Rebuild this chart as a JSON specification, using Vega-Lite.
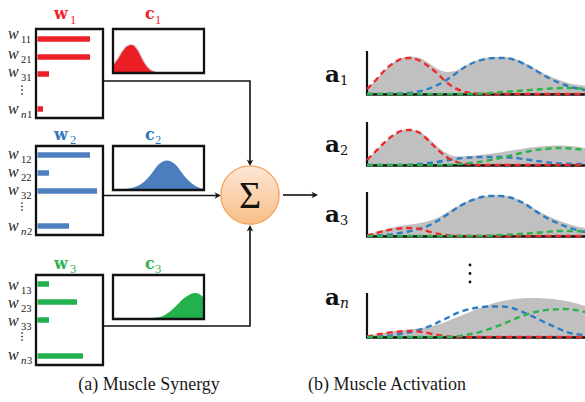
{
  "$schema": "https://vega.github.io/schema/vega-lite/v6.json",
  "width": 585,
  "height": 402,
  "autosize": {"type": "none"},
  "padding": 0,
  "background": "white",
  "config": {"view": {"stroke": null}},
  "datasets": {
    "cur": [
      {"s":"r","x":113,"y":66,"y0":72},{"s":"r","x":118,"y":59,"y0":72},{"s":"r","x":123,"y":51,"y0":72},{"s":"r","x":127,"y":46.5,"y0":72},{"s":"r","x":131,"y":45,"y0":72},{"s":"r","x":135,"y":47,"y0":72},{"s":"r","x":139,"y":53,"y0":72},{"s":"r","x":143,"y":61,"y0":72},{"s":"r","x":147,"y":67,"y0":72},{"s":"r","x":151,"y":70.5,"y0":72},{"s":"r","x":155,"y":72,"y0":72},
      {"s":"b","x":125,"y":189,"y0":189},{"s":"b","x":135,"y":187,"y0":189},{"s":"b","x":145,"y":181,"y0":189},{"s":"b","x":152,"y":173,"y0":189},{"s":"b","x":158,"y":165,"y0":189},{"s":"b","x":163,"y":161.5,"y0":189},{"s":"b","x":167,"y":160.5,"y0":189},{"s":"b","x":171,"y":161.5,"y0":189},{"s":"b","x":176,"y":165,"y0":189},{"s":"b","x":182,"y":173,"y0":189},{"s":"b","x":188,"y":180,"y0":189},{"s":"b","x":194,"y":185,"y0":189},{"s":"b","x":200,"y":188,"y0":189},{"s":"b","x":204,"y":189,"y0":189},
      {"s":"g","x":150,"y":318,"y0":318},{"s":"g","x":160,"y":317,"y0":318},{"s":"g","x":168,"y":313,"y0":318},{"s":"g","x":176,"y":306,"y0":318},{"s":"g","x":183,"y":299,"y0":318},{"s":"g","x":189,"y":295,"y0":318},{"s":"g","x":194,"y":293,"y0":318},{"s":"g","x":198,"y":293.5,"y0":318},{"s":"g","x":202,"y":296,"y0":318},{"s":"g","x":204,"y":298,"y0":318}
    ],
    "boxes": [
      {"x":36,"x2":103,"y":29,"y2":118},{"x":113,"x2":204,"y":29,"y2":73},
      {"x":36,"x2":103,"y":146,"y2":235},{"x":113,"x2":204,"y":146,"y2":190},
      {"x":36,"x2":103,"y":275,"y2":365},{"x":113,"x2":204,"y":275,"y2":319}
    ],
    "bars": [
      {"s":"r","x":37.5,"x2":90,"y":39},{"s":"r","x":37.5,"x2":90,"y":57},{"s":"r","x":37.5,"x2":49,"y":74},{"s":"r","x":37.5,"x2":43,"y":109},
      {"s":"b","x":37.5,"x2":90,"y":155},{"s":"b","x":37.5,"x2":49,"y":173},{"s":"b","x":37.5,"x2":97,"y":191},{"s":"b","x":37.5,"x2":69,"y":226},
      {"s":"g","x":37.5,"x2":49,"y":284},{"s":"g","x":37.5,"x2":77,"y":302},{"s":"g","x":37.5,"x2":49,"y":320},{"s":"g","x":37.5,"x2":83,"y":356}
    ],
    "wlab": [
      {"t":"w","x":8,"y":39},{"t":"w","x":8,"y":59},{"t":"w","x":8,"y":77},{"t":"w","x":8,"y":114},
      {"t":"w","x":8,"y":159},{"t":"w","x":8,"y":177},{"t":"w","x":8,"y":195},{"t":"w","x":8,"y":231},
      {"t":"w","x":8,"y":290},{"t":"w","x":8,"y":308},{"t":"w","x":8,"y":326},{"t":"w","x":8,"y":360}
    ],
    "wsub": [
      {"t":"11","x":21,"y":43},{"t":"21","x":21,"y":63},{"t":"31","x":21,"y":81},{"t":"1","x":27,"y":118},
      {"t":"12","x":21,"y":163},{"t":"22","x":21,"y":181},{"t":"32","x":21,"y":199},{"t":"2","x":27,"y":235},
      {"t":"13","x":21,"y":294},{"t":"23","x":21,"y":312},{"t":"33","x":21,"y":330},{"t":"3","x":27,"y":364}
    ],
    "nsub": [
      {"t":"n","x":21,"y":118},{"t":"n","x":21,"y":235},{"t":"n","x":21,"y":364}
    ],
    "ldots": [
      {"x":22,"y":86},{"x":22,"y":90},{"x":22,"y":94},
      {"x":22,"y":203},{"x":22,"y":206.5},{"x":22,"y":210},
      {"x":22,"y":333},{"x":22,"y":336.5},{"x":22,"y":340}
    ],
    "titles": [
      {"t":"w","s":"r","x":54,"y":19},{"t":"c","s":"r","x":145,"y":19},
      {"t":"w","s":"b","x":54,"y":140},{"t":"c","s":"b","x":145,"y":140},
      {"t":"w","s":"g","x":54,"y":269},{"t":"c","s":"g","x":145,"y":269}
    ],
    "tsubs": [
      {"t":"1","s":"r","x":70,"y":24},{"t":"1","s":"r","x":155,"y":24},
      {"t":"2","s":"b","x":70,"y":144},{"t":"2","s":"b","x":155,"y":144},
      {"t":"3","s":"g","x":70,"y":273},{"t":"3","s":"g","x":155,"y":273}
    ],
    "conn": [
      {"id":"t","o":1,"x":103,"y":81},{"id":"t","o":2,"x":250,"y":81},{"id":"t","o":3,"x":250,"y":162},
      {"id":"l","o":1,"x":103,"y":195.5},{"id":"l","o":2,"x":217,"y":195.5},
      {"id":"b","o":1,"x":103,"y":326},{"id":"b","o":2,"x":250,"y":326},{"id":"b","o":3,"x":250,"y":229},
      {"id":"o","o":1,"x":283,"y":195},{"id":"o","o":2,"x":314,"y":195}
    ],
    "heads": [
      {"x":250,"y":166,"a":90},{"x":221,"y":195.5,"a":0},{"x":250,"y":225,"a":270},{"x":318,"y":195,"a":0}
    ],
    "grey": [
      {"p":"a1","x":367,"y":89,"y0":94},{"p":"a1","x":375,"y":81,"y0":94},{"p":"a1","x":385,"y":70,"y0":94},{"p":"a1","x":395,"y":61.5,"y0":94},{"p":"a1","x":403,"y":57.5,"y0":94},{"p":"a1","x":411,"y":56.5,"y0":94},{"p":"a1","x":420,"y":58,"y0":94},{"p":"a1","x":430,"y":64,"y0":94},{"p":"a1","x":440,"y":70,"y0":94},{"p":"a1","x":447,"y":72,"y0":94},{"p":"a1","x":455,"y":71,"y0":94},{"p":"a1","x":465,"y":66,"y0":94},{"p":"a1","x":475,"y":61,"y0":94},{"p":"a1","x":485,"y":58,"y0":94},{"p":"a1","x":495,"y":57,"y0":94},{"p":"a1","x":505,"y":57,"y0":94},{"p":"a1","x":515,"y":59,"y0":94},{"p":"a1","x":525,"y":63,"y0":94},{"p":"a1","x":535,"y":68.5,"y0":94},{"p":"a1","x":545,"y":74,"y0":94},{"p":"a1","x":555,"y":78.5,"y0":94},{"p":"a1","x":565,"y":82,"y0":94},{"p":"a1","x":575,"y":84.5,"y0":94},{"p":"a1","x":585,"y":85.5,"y0":94},
      {"p":"a2","x":367,"y":160,"y0":165},{"p":"a2","x":375,"y":152,"y0":165},{"p":"a2","x":385,"y":142,"y0":165},{"p":"a2","x":395,"y":134,"y0":165},{"p":"a2","x":403,"y":130,"y0":165},{"p":"a2","x":410,"y":129.5,"y0":165},{"p":"a2","x":418,"y":131,"y0":165},{"p":"a2","x":428,"y":138,"y0":165},{"p":"a2","x":438,"y":147,"y0":165},{"p":"a2","x":448,"y":154,"y0":165},{"p":"a2","x":457,"y":156.5,"y0":165},{"p":"a2","x":470,"y":156,"y0":165},{"p":"a2","x":485,"y":154.5,"y0":165},{"p":"a2","x":500,"y":152.5,"y0":165},{"p":"a2","x":515,"y":150,"y0":165},{"p":"a2","x":530,"y":147.5,"y0":165},{"p":"a2","x":545,"y":146,"y0":165},{"p":"a2","x":557,"y":145.5,"y0":165},{"p":"a2","x":570,"y":146,"y0":165},{"p":"a2","x":585,"y":148,"y0":165},
      {"p":"a3","x":367,"y":235,"y0":236},{"p":"a3","x":380,"y":231,"y0":236},{"p":"a3","x":395,"y":227,"y0":236},{"p":"a3","x":410,"y":224.5,"y0":236},{"p":"a3","x":425,"y":222,"y0":236},{"p":"a3","x":440,"y":216.5,"y0":236},{"p":"a3","x":455,"y":207.5,"y0":236},{"p":"a3","x":470,"y":200,"y0":236},{"p":"a3","x":485,"y":196,"y0":236},{"p":"a3","x":497,"y":195,"y0":236},{"p":"a3","x":510,"y":196.5,"y0":236},{"p":"a3","x":525,"y":203,"y0":236},{"p":"a3","x":540,"y":212,"y0":236},{"p":"a3","x":555,"y":219,"y0":236},{"p":"a3","x":570,"y":224.5,"y0":236},{"p":"a3","x":585,"y":228,"y0":236},
      {"p":"an","x":367,"y":336,"y0":337},{"p":"an","x":380,"y":333.5,"y0":337},{"p":"an","x":395,"y":331,"y0":337},{"p":"an","x":410,"y":329.5,"y0":337},{"p":"an","x":425,"y":327.5,"y0":337},{"p":"an","x":440,"y":324,"y0":337},{"p":"an","x":455,"y":318,"y0":337},{"p":"an","x":470,"y":312,"y0":337},{"p":"an","x":485,"y":306,"y0":337},{"p":"an","x":500,"y":301.5,"y0":337},{"p":"an","x":515,"y":299,"y0":337},{"p":"an","x":530,"y":298,"y0":337},{"p":"an","x":545,"y":298.5,"y0":337},{"p":"an","x":560,"y":300,"y0":337},{"p":"an","x":575,"y":303,"y0":337},{"p":"an","x":585,"y":306,"y0":337}
    ],
    "lines": [
      {"p":"a1","s":"b","x":367,"y":94},{"p":"a1","s":"b","x":400,"y":93.5},{"p":"a1","s":"b","x":415,"y":92},{"p":"a1","s":"b","x":425,"y":90},{"p":"a1","s":"b","x":435,"y":86},{"p":"a1","s":"b","x":445,"y":81},{"p":"a1","s":"b","x":455,"y":74},{"p":"a1","s":"b","x":465,"y":67},{"p":"a1","s":"b","x":475,"y":62},{"p":"a1","s":"b","x":485,"y":59},{"p":"a1","s":"b","x":495,"y":58},{"p":"a1","s":"b","x":505,"y":58},{"p":"a1","s":"b","x":515,"y":60},{"p":"a1","s":"b","x":525,"y":64.5},{"p":"a1","s":"b","x":535,"y":70},{"p":"a1","s":"b","x":545,"y":76},{"p":"a1","s":"b","x":555,"y":81},{"p":"a1","s":"b","x":565,"y":85},{"p":"a1","s":"b","x":575,"y":88},{"p":"a1","s":"b","x":585,"y":90},
      {"p":"a1","s":"r","x":367,"y":89},{"p":"a1","s":"r","x":375,"y":81},{"p":"a1","s":"r","x":385,"y":70},{"p":"a1","s":"r","x":395,"y":62},{"p":"a1","s":"r","x":403,"y":58.5},{"p":"a1","s":"r","x":410,"y":58},{"p":"a1","s":"r","x":418,"y":60},{"p":"a1","s":"r","x":428,"y":66},{"p":"a1","s":"r","x":438,"y":74},{"p":"a1","s":"r","x":445,"y":81},{"p":"a1","s":"r","x":455,"y":88},{"p":"a1","s":"r","x":465,"y":92},{"p":"a1","s":"r","x":475,"y":93.5},{"p":"a1","s":"r","x":485,"y":94},{"p":"a1","s":"r","x":585,"y":94},
      {"p":"a1","s":"g","x":367,"y":94},{"p":"a1","s":"g","x":470,"y":94},{"p":"a1","s":"g","x":490,"y":93},{"p":"a1","s":"g","x":510,"y":91.5},{"p":"a1","s":"g","x":530,"y":90},{"p":"a1","s":"g","x":550,"y":88.5},{"p":"a1","s":"g","x":570,"y":88},{"p":"a1","s":"g","x":585,"y":89},
      {"p":"a2","s":"b","x":367,"y":165},{"p":"a2","s":"b","x":400,"y":165},{"p":"a2","s":"b","x":420,"y":164},{"p":"a2","s":"b","x":440,"y":161.5},{"p":"a2","s":"b","x":455,"y":159},{"p":"a2","s":"b","x":470,"y":157.5},{"p":"a2","s":"b","x":485,"y":157},{"p":"a2","s":"b","x":500,"y":157},{"p":"a2","s":"b","x":515,"y":158},{"p":"a2","s":"b","x":530,"y":160},{"p":"a2","s":"b","x":545,"y":162},{"p":"a2","s":"b","x":560,"y":163.5},{"p":"a2","s":"b","x":585,"y":164},
      {"p":"a2","s":"r","x":367,"y":160},{"p":"a2","s":"r","x":375,"y":152},{"p":"a2","s":"r","x":385,"y":142},{"p":"a2","s":"r","x":395,"y":134},{"p":"a2","s":"r","x":403,"y":130.5},{"p":"a2","s":"r","x":410,"y":130},{"p":"a2","s":"r","x":418,"y":132},{"p":"a2","s":"r","x":428,"y":140},{"p":"a2","s":"r","x":438,"y":150},{"p":"a2","s":"r","x":448,"y":158},{"p":"a2","s":"r","x":458,"y":162.5},{"p":"a2","s":"r","x":470,"y":164.5},{"p":"a2","s":"r","x":480,"y":165},{"p":"a2","s":"r","x":585,"y":165},
      {"p":"a2","s":"g","x":367,"y":165},{"p":"a2","s":"g","x":440,"y":165},{"p":"a2","s":"g","x":455,"y":164.5},{"p":"a2","s":"g","x":470,"y":163},{"p":"a2","s":"g","x":485,"y":161},{"p":"a2","s":"g","x":500,"y":158},{"p":"a2","s":"g","x":515,"y":154.5},{"p":"a2","s":"g","x":530,"y":151},{"p":"a2","s":"g","x":545,"y":149},{"p":"a2","s":"g","x":557,"y":148},{"p":"a2","s":"g","x":570,"y":148.5},{"p":"a2","s":"g","x":585,"y":150},
      {"p":"a3","s":"b","x":367,"y":236},{"p":"a3","s":"b","x":385,"y":235},{"p":"a3","s":"b","x":400,"y":233},{"p":"a3","s":"b","x":415,"y":230},{"p":"a3","s":"b","x":430,"y":225},{"p":"a3","s":"b","x":445,"y":216},{"p":"a3","s":"b","x":460,"y":206},{"p":"a3","s":"b","x":475,"y":199},{"p":"a3","s":"b","x":490,"y":196},{"p":"a3","s":"b","x":500,"y":196},{"p":"a3","s":"b","x":510,"y":197.5},{"p":"a3","s":"b","x":525,"y":204},{"p":"a3","s":"b","x":540,"y":214},{"p":"a3","s":"b","x":555,"y":222},{"p":"a3","s":"b","x":570,"y":228},{"p":"a3","s":"b","x":585,"y":232},
      {"p":"a3","s":"r","x":367,"y":235.5},{"p":"a3","s":"r","x":380,"y":232},{"p":"a3","s":"r","x":395,"y":229},{"p":"a3","s":"r","x":408,"y":228},{"p":"a3","s":"r","x":420,"y":229},{"p":"a3","s":"r","x":432,"y":232.5},{"p":"a3","s":"r","x":445,"y":235},{"p":"a3","s":"r","x":460,"y":236},{"p":"a3","s":"r","x":585,"y":236},
      {"p":"a3","s":"g","x":367,"y":236},{"p":"a3","s":"g","x":480,"y":236},{"p":"a3","s":"g","x":500,"y":235},{"p":"a3","s":"g","x":520,"y":234},{"p":"a3","s":"g","x":540,"y":232.5},{"p":"a3","s":"g","x":560,"y":231},{"p":"a3","s":"g","x":575,"y":231},{"p":"a3","s":"g","x":585,"y":232},
      {"p":"an","s":"b","x":367,"y":337},{"p":"an","s":"b","x":385,"y":336},{"p":"an","s":"b","x":400,"y":334},{"p":"an","s":"b","x":415,"y":331},{"p":"an","s":"b","x":430,"y":326},{"p":"an","s":"b","x":445,"y":319},{"p":"an","s":"b","x":460,"y":312},{"p":"an","s":"b","x":475,"y":308},{"p":"an","s":"b","x":490,"y":306.5},{"p":"an","s":"b","x":500,"y":306.5},{"p":"an","s":"b","x":512,"y":308},{"p":"an","s":"b","x":525,"y":313},{"p":"an","s":"b","x":540,"y":320},{"p":"an","s":"b","x":555,"y":327},{"p":"an","s":"b","x":570,"y":333},{"p":"an","s":"b","x":585,"y":335},
      {"p":"an","s":"r","x":367,"y":336.5},{"p":"an","s":"r","x":380,"y":334},{"p":"an","s":"r","x":395,"y":332},{"p":"an","s":"r","x":410,"y":331},{"p":"an","s":"r","x":422,"y":332},{"p":"an","s":"r","x":435,"y":334.5},{"p":"an","s":"r","x":448,"y":336.5},{"p":"an","s":"r","x":460,"y":337},{"p":"an","s":"r","x":585,"y":337},
      {"p":"an","s":"g","x":367,"y":337},{"p":"an","s":"g","x":450,"y":337},{"p":"an","s":"g","x":465,"y":335},{"p":"an","s":"g","x":480,"y":332},{"p":"an","s":"g","x":495,"y":327},{"p":"an","s":"g","x":510,"y":321},{"p":"an","s":"g","x":525,"y":315},{"p":"an","s":"g","x":540,"y":311},{"p":"an","s":"g","x":555,"y":309.5},{"p":"an","s":"g","x":565,"y":309},{"p":"an","s":"g","x":575,"y":310},{"p":"an","s":"g","x":585,"y":312}
    ],
    "vaxes": [
      {"x":367,"y":51,"y2":95},{"x":367,"y":122,"y2":166},{"x":367,"y":192,"y2":237},{"x":367,"y":293,"y2":338}
    ],
    "haxes": [
      {"x":366,"x2":585,"y":94.5},{"x":366,"x2":585,"y":165.5},{"x":366,"x2":585,"y":236.5},{"x":366,"x2":585,"y":337.5}
    ],
    "alab": [
      {"t":"a","x":325,"y":82},{"t":"a","x":325,"y":152},{"t":"a","x":325,"y":222},{"t":"a","x":325,"y":305}
    ],
    "asub": [
      {"t":"1","x":340,"y":84.5},{"t":"2","x":340,"y":155},{"t":"3","x":340,"y":225}
    ],
    "ansub": [
      {"t":"n","x":340,"y":308}
    ],
    "rdots": [
      {"x":470,"y":265},{"x":470,"y":273.5},{"x":470,"y":282}
    ],
    "sum": [{"x":250,"y":195,"t":"Σ"}],
    "caps": [
      {"t":"(a) Muscle Synergy","x":149,"y":390},
      {"t":"(b) Muscle Activation","x":387,"y":390}
    ]
  },
  "encoding": {
    "x": {"field":"x","type":"quantitative","scale":{"domain":[0,585],"nice":false,"zero":false},"axis":null},
    "y": {"field":"y","type":"quantitative","scale":{"domain":[0,402],"nice":false,"zero":false,"reverse":true},"axis":null}
  },
  "resolve": {"scale": {"color": "independent"}},
  "layer": [
    {
      "data": {"name":"cur"},
      "transform": [{"filter":"datum.s == 'r'"}],
      "mark": {"type":"line","color":"#d6d6d6","strokeWidth":2.5,"interpolate":"monotone"},
      "encoding": {}
    },
    {
      "data": {"name":"cur"},
      "mark": {"type":"area","interpolate":"monotone","opacity":1},
      "encoding": {
        "y2": {"field":"y0"},
        "detail": {"field":"s"},
        "color": {"field":"s","type":"nominal","scale":{"domain":["r","b","g"],"range":["#ed1f26","#4a7ebe","#22b14c"]},"legend":null}
      }
    },
    {
      "data": {"name":"boxes"},
      "mark": {"type":"rect","fillOpacity":0,"stroke":"#111111","strokeWidth":2.3},
      "encoding": {"x2":{"field":"x2"},"y2":{"field":"y2"}}
    },
    {
      "data": {"name":"bars"},
      "mark": {"type":"rule","strokeWidth":5.5,"strokeCap":"butt"},
      "encoding": {
        "x2": {"field":"x2"},
        "color": {"field":"s","type":"nominal","scale":{"domain":["r","b","g"],"range":["#ed1f26","#4e80bf","#22b14c"]},"legend":null}
      }
    },
    {
      "data": {"name":"wlab"},
      "mark": {"type":"text","font":"Liberation Serif","fontStyle":"italic","fontSize":16,"align":"left","baseline":"alphabetic","color":"#1a1a1a"},
      "encoding": {"text":{"field":"t"}}
    },
    {
      "data": {"name":"wsub"},
      "mark": {"type":"text","font":"Liberation Serif","fontSize":10.5,"align":"left","baseline":"alphabetic","color":"#1a1a1a"},
      "encoding": {"text":{"field":"t"}}
    },
    {
      "data": {"name":"nsub"},
      "mark": {"type":"text","font":"Liberation Serif","fontStyle":"italic","fontSize":11,"align":"left","baseline":"alphabetic","color":"#1a1a1a"},
      "encoding": {"text":{"field":"t"}}
    },
    {
      "data": {"name":"ldots"},
      "mark": {"type":"point","filled":true,"size":3,"color":"#1a1a1a","opacity":1},
      "encoding": {}
    },
    {
      "data": {"name":"titles"},
      "mark": {"type":"text","font":"DejaVu Serif","fontWeight":"bold","fontSize":16,"align":"left","baseline":"alphabetic"},
      "encoding": {
        "text": {"field":"t"},
        "color": {"field":"s","type":"nominal","scale":{"domain":["r","b","g"],"range":["#ee2229","#2e78c0","#2fb24c"]},"legend":null}
      }
    },
    {
      "data": {"name":"tsubs"},
      "mark": {"type":"text","font":"Liberation Serif","fontSize":12.5,"align":"left","baseline":"alphabetic"},
      "encoding": {
        "text": {"field":"t"},
        "color": {"field":"s","type":"nominal","scale":{"domain":["r","b","g"],"range":["#ee2229","#2e78c0","#2fb24c"]},"legend":null}
      }
    },
    {
      "data": {"name":"conn"},
      "mark": {"type":"line","color":"#111111","strokeWidth":1.6},
      "encoding": {"detail":{"field":"id"},"order":{"field":"o"}}
    },
    {
      "data": {"name":"heads"},
      "mark": {"type":"point","filled":true,"opacity":1,"color":"#111111","size":170,"shape":"M0,0L-1,-0.5L-0.7,0L-1,0.5Z"},
      "encoding": {"angle":{"field":"a","type":"quantitative","scale":null}}
    },
    {
      "data": {"name":"sum"},
      "mark": {"type":"point","filled":true,"opacity":1,"size":3400,"strokeWidth":1.3,"stroke":"#f3a25c",
        "fill":{"gradient":"linear","x1":0,"y1":0,"x2":0,"y2":1,"stops":[{"offset":0,"color":"#fde7d5"},{"offset":1,"color":"#f8bd86"}]}},
      "encoding": {}
    },
    {
      "data": {"name":"sum"},
      "mark": {"type":"text","font":"Liberation Serif","fontSize":38,"align":"center","baseline":"alphabetic","dy":13,"color":"#111111"},
      "encoding": {"text":{"field":"t"}}
    },
    {
      "data": {"name":"grey"},
      "mark": {"type":"area","color":"#c0c0c0","opacity":1,"interpolate":"monotone"},
      "encoding": {"y2":{"field":"y0"},"detail":{"field":"p"}}
    },
    {
      "data": {"name":"haxes"},
      "mark": {"type":"rule","color":"#111111","strokeWidth":2.5},
      "encoding": {"x2":{"field":"x2"}}
    },
    {
      "data": {"name":"vaxes"},
      "mark": {"type":"rule","color":"#111111","strokeWidth":2.2},
      "encoding": {"y2":{"field":"y2"}}
    },
    {
      "data": {"name":"lines"},
      "mark": {"type":"line","strokeWidth":2.4,"strokeDash":[6,4],"interpolate":"monotone"},
      "encoding": {
        "detail": {"field":"p"},
        "color": {"field":"s","type":"nominal","scale":{"domain":["b","r","g"],"range":["#2d7cc4","#ee2a2a","#2db34b"]},"legend":null}
      }
    },
    {
      "data": {"name":"alab"},
      "mark": {"type":"text","font":"DejaVu Serif","fontWeight":"bold","fontSize":23,"align":"left","baseline":"alphabetic","color":"#111111"},
      "encoding": {"text":{"field":"t"}}
    },
    {
      "data": {"name":"asub"},
      "mark": {"type":"text","font":"DejaVu Serif","fontSize":13,"align":"left","baseline":"alphabetic","color":"#111111"},
      "encoding": {"text":{"field":"t"}}
    },
    {
      "data": {"name":"ansub"},
      "mark": {"type":"text","font":"DejaVu Serif","fontStyle":"italic","fontSize":14,"align":"left","baseline":"alphabetic","color":"#111111"},
      "encoding": {"text":{"field":"t"}}
    },
    {
      "data": {"name":"rdots"},
      "mark": {"type":"point","filled":true,"size":8,"color":"#111111","opacity":1},
      "encoding": {}
    },
    {
      "data": {"name":"caps"},
      "mark": {"type":"text","font":"Liberation Serif","fontSize":18,"align":"center","baseline":"alphabetic","color":"#1a1a1a"},
      "encoding": {"text":{"field":"t"}}
    }
  ]
}
